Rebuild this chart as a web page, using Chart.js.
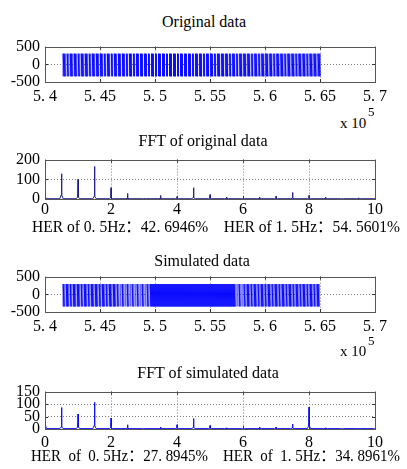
<!DOCTYPE html>
<html lang="zh-CN"><head><meta charset="utf-8">
<script src="https://cdn.jsdelivr.net/npm/chart.js@4.4.0/dist/chart.umd.min.js"></script>
<style>
html,body{margin:0;padding:0;background:#fff;}
#wrap{position:relative;width:407px;height:469px;overflow:hidden;background:#fff;}
canvas{position:absolute;left:0;}
.t{position:absolute;font-family:'Liberation Serif','Noto Sans CJK SC','DejaVu Serif',serif;color:#000;white-space:pre;line-height:16px;font-size:16px;}
.ttl{text-align:center;width:240px;}
.fit{transform-origin:0 0;}
</style></head><body><div id="wrap">
<div class="t ttl" style="left:84px;top:14px;">Original data</div>
<canvas id="c1" width="407" height="80" style="top:32px"></canvas>
<div class="t" style="left:340px;top:115px;font-size:15px;">x 10</div>
<div class="t" style="left:368px;top:104px;font-size:13px;">5</div>
<div class="t ttl" style="left:83px;top:133px;">FFT of original data</div>
<canvas id="c2" width="407" height="84" style="top:145px"></canvas>
<div class="t fit" id="her1" lang="zh-CN" style="left:32px;top:219px;">HER of 0. 5Hz：42. 6946%    HER of 1. 5Hz：54. 5601%</div>
<div class="t ttl" style="left:82px;top:253px;">Simulated data</div>
<canvas id="c3" width="407" height="80" style="top:262px"></canvas>
<div class="t" style="left:340px;top:343px;font-size:15px;">x 10</div>
<div class="t" style="left:368px;top:333px;font-size:13px;">5</div>
<div class="t ttl" style="left:88px;top:365px;">FFT of simulated data</div>
<canvas id="c4" width="407" height="82" style="top:377px"></canvas>
<div class="t fit" id="her2" lang="zh-CN" style="left:31px;top:448px;">HER  of  0. 5Hz：27. 8945%    HER  of  1. 5Hz：34. 8961%</div>
</div>
<script>
// ---------------- data ----------------
const timeStart = 541650, timeEnd = 565000;
const origHigh = 300, origLow = -340;
const simHigh = 290, simLow = -345;
// per-column presence of the pulse train ('1' = stroke, '0' = white gap), read across the plot
const origMask = "11101101110111011011101110110111011101110110111011011101110111011011101101110111011101101110110111011101101110111011011101110111011011101110110111011101101110111011101101110110111011101110110111011011101110111011011101110110111011101101110111011011101110111";
const simMask  = "110111011011101110110111011011101110110111011011101110110101101011010110101101011010110" +
                 "11111111111111111111111111111111111111111111111111111111111111111111111111111111111111" +
                 "0101101011011101101110110111011011101101110110111011011101101110110111011011101101110";
const timeTickVals = [540000, 545000, 550000, 555000, 560000, 565000, 570000];
const timeTickLabels = ['5. 4', '5. 45', '5. 5', '5. 55', '5. 6', '5. 65', '5. 7'];
const timeYTicks = [-500, 0, 500];
const timeYLabels = ['-500', '0', '500'];

const fftFreqs  = [0, 0.5, 1, 1.5, 2, 2.5, 3, 3.5, 4, 4.5, 5, 5.5, 6, 6.5, 7, 7.5, 8, 8.5, 9, 9.5, 10];
const origPeaks = [50, 128, 100, 165, 57, 28, 4, 18, 12, 57, 22, 10, 3, 10, 14, 33, 18, 9, 3, 6, 5];
const origBases = [10, 20, 10, 14, 5, 3, 1, 3, 3, 7, 3, 2, 1, 2, 2, 4, 3, 2, 1, 1, 1];
const simPeaks  = [62, 86, 60, 107, 44, 17, 3, 8, 17, 42, 14, 5, 2, 8, 8, 20, 88, 5, 2, 3, 3];
const simBases  = [14, 8, 8, 14, 5, 3, 1, 2, 3, 6, 3, 2, 1, 2, 2, 4, 12, 2, 1, 1, 1];
const fftFloor = 1.5;
const fftXTicks = [0, 2, 4, 6, 8, 10];
const fftXLabels = ['0', '2', '4', '6', '8', '10'];
const fft1YTicks = [0, 100, 200];
const fft1YLabels = ['0', '100', '200'];
const fft2YTicks = [0, 50, 100, 150];
const fft2YLabels = ['0', '50', '100', '150'];

// ---------------- build ----------------
function buildPulse(mask, start, end, hi, lo) {
  const n = mask.length, step = (end - start) / (n - 1), pts = [];
  for (let i = 0; i < n; i++) {
    const x = start + i * step;
    if (mask[i] === '1') { pts.push({x, y: lo}, {x, y: hi}); }
    else pts.push({x, y: null});
  }
  return pts;
}
function buildSpectrum(freqs, peaks, bases, floor) {
  const pts = [];
  freqs.forEach((f, i) => {
    pts.push({x: f - 0.05, y: floor}, {x: f - 0.012, y: bases[i]}, {x: f, y: peaks[i]},
             {x: f + 0.012, y: bases[i]}, {x: f + 0.05, y: floor});
  });
  return pts.filter(p => p.x >= 0 && p.x <= 10);
}

const FONT = {family: "'Liberation Serif','DejaVu Serif',serif", size: 16};

const matlabBox = {
  id: 'matlabBox',
  afterDatasetsDraw(chart) {
    const {ctx, chartArea: a, scales: {x, y}} = chart;
    ctx.save();
    ctx.strokeStyle = '#333'; ctx.lineWidth = 1;
    ctx.beginPath();
    x.ticks.forEach(t => { const px = Math.round(x.getPixelForValue(t.value)) + 0.5;
      ctx.moveTo(px, a.top); ctx.lineTo(px, a.top + 3); ctx.moveTo(px, a.bottom); ctx.lineTo(px, a.bottom - 3); });
    y.ticks.forEach(t => { const py = Math.round(y.getPixelForValue(t.value)) + 0.5;
      ctx.moveTo(a.left, py); ctx.lineTo(a.left + 3, py); ctx.moveTo(a.right, py); ctx.lineTo(a.right - 3, py); });
    ctx.stroke();
    ctx.strokeStyle = '#555';
    ctx.strokeRect(Math.round(a.left) + 0.5, Math.round(a.top) + 0.5, Math.round(a.right - a.left), Math.round(a.bottom - a.top));
    ctx.restore();
  }
};

function axis(vals, labels, min, max, pad, isX) {
  return {
    type: 'linear', min, max,
    afterBuildTicks: s => { s.ticks = vals.map(v => ({value: v})); },
    afterFit: s => { if (isX) s.height = 30; else s.width = 45; },
    ticks: { color: '#000', font: FONT, padding: pad, maxRotation: 0, autoSkip: false,
             callback: (v, i) => labels[i] },
    grid: { drawTicks: false, lineWidth: 1,
            color: c => (c.index > 0 && c.index < vals.length - 1) ? '#808080' : 'rgba(0,0,0,0)' },
    border: { display: false, dash: [1, 2] }
  };
}

function make(id, data, color, xv, xl, xmin, xmax, xpad, yv, yl, ymin, ymax) {
  return new Chart(document.getElementById(id), {
    type: 'line',
    data: { datasets: [{ data, borderColor: color, borderWidth: 1, pointRadius: 0, spanGaps: false, tension: 0 }] },
    options: {
      responsive: false, animation: false, events: [],
      layout: { padding: { top: 10, left: 0, right: 32, bottom: 0 } },
      plugins: { legend: { display: false }, tooltip: { enabled: false }, title: { display: false } },
      scales: { x: axis(xv, xl, xmin, xmax, xpad, true), y: axis(yv, yl, ymin, ymax, 5, false) }
    },
    plugins: [matlabBox]
  });
}

make('c1', buildPulse(origMask, timeStart, timeEnd, origHigh, origLow), '#0a0aff',
     timeTickVals, timeTickLabels, 540000, 570000, 5, timeYTicks, timeYLabels, -500, 500);
make('c2', buildSpectrum(fftFreqs, origPeaks, origBases, fftFloor), '#1e1e88',
     fftXTicks, fftXLabels, 0, 10, 1, fft1YTicks, fft1YLabels, 0, 200);
make('c3', buildPulse(simMask, timeStart, timeEnd, simHigh, simLow), '#0a0aff',
     timeTickVals, timeTickLabels, 540000, 570000, 5, timeYTicks, timeYLabels, -500, 500);
make('c4', buildSpectrum(fftFreqs, simPeaks, simBases, fftFloor), '#0a0aff',
     fftXTicks, fftXLabels, 0, 10, 4, fft2YTicks, fft2YLabels, 0, 150);

function fit(id, width) {
  const el = document.getElementById(id);
  const w = el.getBoundingClientRect().width;
  el.style.transform = 'scaleX(' + (width / w) + ')';
}
fit('her1', 368);
fit('her2', 369);
</script>
</body></html>
